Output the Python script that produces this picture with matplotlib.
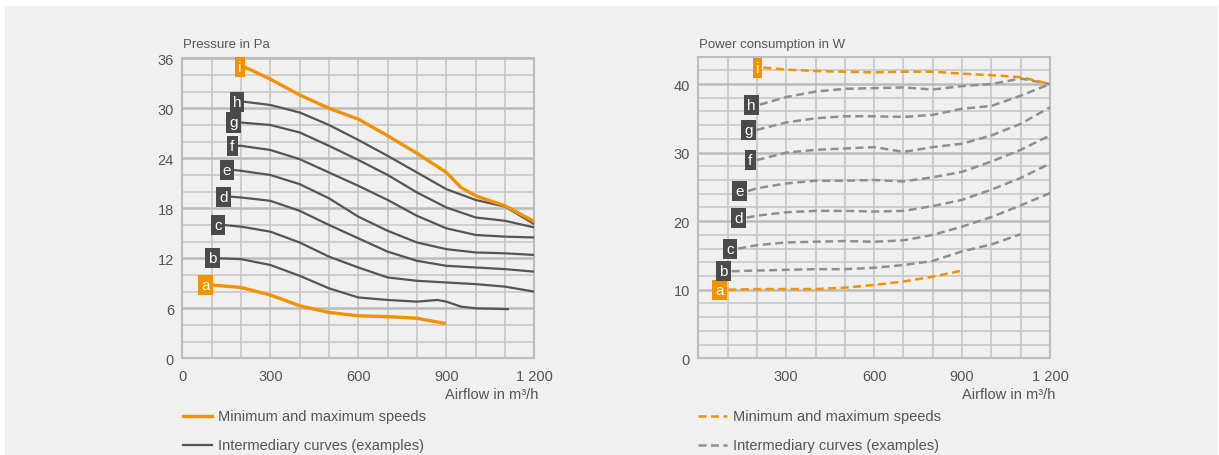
import matplotlib
matplotlib.use("Agg")
import matplotlib.pyplot as plt
from matplotlib.patches import Rectangle
from matplotlib.lines import Line2D

plt.rcParams['font.family'] = ['Liberation Sans Narrow', 'Liberation Sans', 'DejaVu Sans']

ORANGE = '#f39200'
DARK = '#555555'
DASHGRAY = '#8f8f8f'
BOXGRAY = '#4a4a4a'
TXT = '#555555'
GRID = '#c9c9c9'

curve_names = ['a', 'b', 'c', 'd', 'e', 'f', 'g', 'h', 'i']

# pressure (Pa) against airflow (m3/h)
pres_x = {
    'a': [100, 200, 300, 400, 500, 600, 700, 800, 893],
    'b': [124, 200, 300, 400, 500, 600, 700, 800, 870, 900, 950, 1000, 1110],
    'c': [141, 200, 300, 400, 500, 600, 700, 800, 900, 1000, 1100, 1200],
    'd': [163, 200, 300, 400, 500, 600, 700, 800, 900, 1000, 1100, 1200],
    'e': [174, 200, 300, 400, 500, 600, 700, 800, 900, 1000, 1100, 1200],
    'f': [185, 200, 300, 400, 500, 600, 700, 800, 900, 1000, 1100, 1200],
    'g': [197, 300, 400, 500, 600, 700, 800, 900, 1000, 1100, 1200],
    'h': [208, 300, 400, 500, 600, 700, 800, 900, 1000, 1100, 1200],
    'i': [210, 300, 400, 500, 600, 700, 800, 870, 900, 950, 1000, 1100, 1200],
}
pres_y = {
    'a': [8.8, 8.5, 7.6, 6.3, 5.5, 5.1, 5.0, 4.8, 4.2],
    'b': [12.0, 11.9, 11.2, 9.9, 8.4, 7.3, 7.0, 6.8, 7.0, 6.8, 6.2, 6.0, 5.9],
    'c': [16.0, 15.8, 15.2, 13.9, 12.2, 10.9, 9.7, 9.3, 9.1, 8.9, 8.6, 8.0],
    'd': [19.4, 19.3, 18.9, 17.7, 16.0, 14.4, 12.8, 11.7, 11.1, 10.9, 10.7, 10.4],
    'e': [22.6, 22.5, 22.0, 20.9, 19.2, 17.0, 15.3, 13.9, 13.1, 12.7, 12.6, 12.4],
    'f': [25.5, 25.5, 25.0, 23.9, 22.3, 20.7, 19.0, 17.1, 15.6, 14.8, 14.6, 14.5],
    'g': [28.3, 28.0, 27.1, 25.5, 23.8, 22.0, 19.9, 18.1, 16.9, 16.5, 15.7],
    'h': [30.8, 30.4, 29.5, 28.0, 26.2, 24.3, 22.3, 20.3, 19.0, 18.2, 16.1],
    'i': [35.0, 33.5, 31.6, 30.0, 28.7, 26.7, 24.6, 23.0, 22.3, 20.5, 19.5, 18.3, 16.4],
}

# power consumption (W) against airflow (m3/h)
pow_x = {
    'a': [102, 200, 300, 400, 500, 600, 700, 800, 900],
    'b': [114, 200, 300, 400, 500, 600, 700, 800, 900, 1000, 1100],
    'c': [136, 200, 300, 400, 500, 600, 700, 800, 900, 1000, 1100, 1200],
    'd': [165, 200, 300, 400, 500, 600, 700, 800, 900, 1000, 1100, 1200],
    'e': [170, 200, 300, 400, 500, 600, 700, 800, 900, 1000, 1100, 1200],
    'f': [199, 300, 400, 500, 600, 700, 800, 900, 1000, 1100, 1200],
    'g': [199, 300, 400, 500, 600, 700, 800, 900, 1000, 1100, 1200],
    'h': [210, 300, 400, 500, 600, 700, 800, 900, 1000, 1100, 1200],
    'i': [222, 300, 400, 500, 600, 700, 800, 900, 1000, 1100, 1200],
}
pow_y = {
    'a': [10.0, 10.1, 10.1, 10.1, 10.3, 10.7, 11.2, 11.9, 12.8],
    'b': [12.7, 12.8, 12.9, 13.0, 13.0, 13.2, 13.6, 14.2, 15.6, 16.6, 18.1],
    'c': [16.0, 16.5, 16.9, 17.0, 17.1, 17.0, 17.2, 18.0, 19.2, 20.6, 22.3, 24.1],
    'd': [20.5, 20.8, 21.3, 21.5, 21.5, 21.4, 21.5, 22.2, 23.1, 24.6, 26.3, 28.4],
    'e': [24.4, 24.8, 25.5, 25.9, 25.9, 26.0, 25.8, 26.4, 27.2, 28.7, 30.4, 32.5],
    'f': [28.9, 30.0, 30.4, 30.6, 30.8, 30.1, 30.8, 31.3, 32.5, 34.2, 36.6],
    'g': [33.3, 34.4, 35.0, 35.3, 35.3, 35.2, 35.5, 36.4, 36.8, 38.3, 40.0],
    'h': [37.0, 38.1, 38.9, 39.3, 39.4, 39.5, 39.2, 39.7, 40.0, 40.8, 40.0],
    'i': [42.4, 42.1, 41.9, 41.8, 41.7, 41.8, 41.8, 41.5, 41.3, 41.0, 40.0],
}

pres_ticks = [0, 6, 12, 18, 24, 30, 36]
pow_ticks = [0, 10, 20, 30, 40]
flow_ticks = [0, 300, 600, 900, 1200]
flow_labels = ['0', '300', '600', '900', '1 200']

legend_texts = ['Minimum and maximum speeds', 'Intermediary curves (examples)']


def preparar_ejes(ax, ymax, yticks, ymajor, xticks, xlabels):
    ax.set_xlim(0, 1200)
    ax.set_ylim(0, ymax)
    ax.set_facecolor('#f0f0f0')
    for k in range(0, 1201, 100):
        ax.axvline(k, color=GRID, lw=1.3, zorder=1)
    y = 0
    while y <= ymax + 0.01:
        major = (y % ymajor == 0)
        ax.axhline(y, color='#bcbcbc' if major else GRID, lw=1.8 if major else 1.2, zorder=1)
        y += 2
    for s in ax.spines.values():
        s.set_color('#bdbdbd')
        s.set_linewidth(1.5)
    ax.set_yticks(yticks)
    ax.set_xticks(xticks)
    ax.set_xticklabels(xlabels)
    ax.tick_params(length=0, labelsize=10.5, labelcolor=TXT, pad=8)
    ax.tick_params(axis='y', pad=6)


def etiqueta(ax, x, y, letra, color, dx):
    ax.annotate(letra, (x, y), xytext=(dx, 0), textcoords='offset points',
                ha='right', va='center', color='white', fontsize=11,
                zorder=6, annotation_clip=False,
                bbox=dict(boxstyle='square,pad=0.2', fc=color, ec='none'))


fig = plt.figure(figsize=(12.19, 4.56), dpi=100)
fig.patch.set_facecolor('white')
fig.patches.append(Rectangle((5 / 1219, 0), 1213 / 1219, 449 / 456,
                             transform=fig.transFigure, fc='#f0f0f0', ec='none', zorder=-10))

# presion
ax1 = fig.add_axes([182.3 / 1219, 96.7 / 456, 352 / 1219, 300 / 456])
preparar_ejes(ax1, 36, pres_ticks, 6, flow_ticks, flow_labels)
for n in curve_names:
    extremo = n in ('a', 'i')
    ax1.plot(pres_x[n], pres_y[n], color=ORANGE if extremo else DARK,
             lw=2.4 if extremo else 1.6, solid_joinstyle='round', zorder=4 if extremo else 3)
    etiqueta(ax1, pres_x[n][0], pres_y[n][0], n, ORANGE if extremo else BOXGRAY, -1.5)
fig.text(183 / 1219, 1 - 45 / 456, 'Pressure in Pa', fontsize=9.5, color=TXT, va='center')
fig.text(538 / 1219, 1 - 395 / 456, 'Airflow in m³/h', fontsize=10.5, color=TXT,
         va='center', ha='right')

# potencia
ax2 = fig.add_axes([698.3 / 1219, 96.7 / 456, 351.7 / 1219, 301.7 / 456])
preparar_ejes(ax2, 44, pow_ticks, 10, flow_ticks[1:], flow_labels[1:])
for n in curve_names:
    extremo = n in ('a', 'i')
    ax2.plot(pow_x[n], pow_y[n], color=ORANGE if extremo else DASHGRAY,
             lw=1.8, ls=(0, (3.2, 1.8)), zorder=4 if extremo else 3)
    etiqueta(ax2, pow_x[n][0], pow_y[n][0], n, ORANGE if extremo else BOXGRAY, -3)
fig.text(699 / 1219, 1 - 45 / 456, 'Power consumption in W', fontsize=9.5, color=TXT, va='center')
fig.text(1055 / 1219, 1 - 395 / 456, 'Airflow in m³/h', fontsize=10.5, color=TXT,
         va='center', ha='right')

# leyendas
for x0, estilos in ((183, [(ORANGE, '-', 2.4), (DARK, '-', 1.6)]),
                    (698, [(ORANGE, (0, (3.2, 1.8)), 1.8), (DASHGRAY, (0, (3.2, 1.8)), 1.8)])):
    for k, (col, ls, lw) in enumerate(estilos):
        yy = 1 - (417 + 29 * k) / 456
        fig.lines.append(Line2D([x0 / 1219, (x0 + 29) / 1219], [yy, yy], color=col, ls=ls, lw=lw,
                                transform=fig.transFigure))
        fig.text((x0 + 35) / 1219, yy, legend_texts[k], fontsize=10.5, color=TXT, va='center')

fig.savefig('out.png', dpi=100, facecolor=fig.get_facecolor())
